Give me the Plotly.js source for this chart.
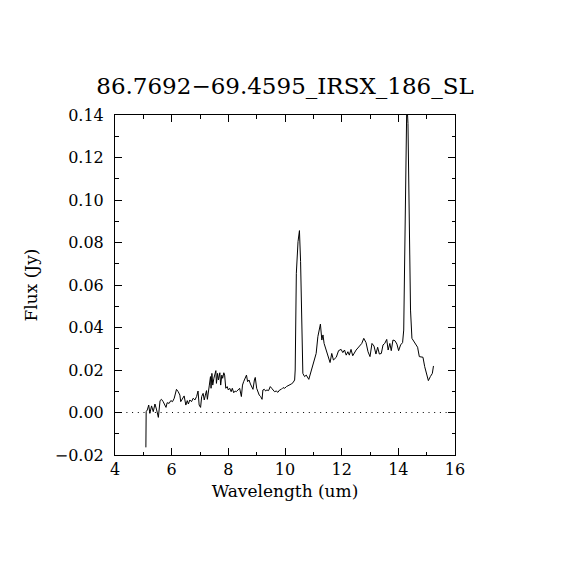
<!DOCTYPE html>
<html>
<head>
<meta charset="utf-8">
<script src="https://cdn.plot.ly/plotly-3.0.1.min.js"></script>
<style>html,body{margin:0;padding:0;background:#fff;}#chart{width:570px;height:570px;}</style>
</head>
<body>
<div id="chart"></div>
<script>
// Wavelength (um)
var wavelength = [
 5.09, 5.10, 5.14, 5.19, 5.23, 5.29, 5.35, 5.41, 5.47, 5.53, 5.59, 5.64, 5.70, 5.76, 5.80, 5.84, 5.91, 5.97, 6.03, 6.09,
 6.17, 6.23, 6.29, 6.32, 6.38, 6.44, 6.50, 6.55, 6.59, 6.64, 6.70, 6.76, 6.82, 6.88, 6.93, 6.97, 7.02, 7.06, 7.11, 7.15,
 7.19, 7.23, 7.26, 7.30, 7.33, 7.37, 7.39, 7.42, 7.45, 7.49, 7.52, 7.56, 7.58, 7.62, 7.65, 7.70, 7.73, 7.77, 7.80, 7.84,
 7.87, 7.91, 7.96, 8.00, 8.05, 8.10, 8.14, 8.19, 8.24, 8.28, 8.34, 8.40, 8.46, 8.50, 8.54, 8.59, 8.64, 8.68, 8.73, 8.78,
 8.82, 8.87, 8.92, 8.95, 9.00, 9.05, 9.09, 9.14, 9.19, 9.22, 9.27, 9.32, 9.36, 9.42, 9.48, 9.53, 9.58, 9.63, 9.69, 9.75,
 9.81, 9.87, 9.93, 9.99, 10.05, 10.10, 10.16, 10.22, 10.28, 10.34, 10.36, 10.40, 10.46, 10.49, 10.51, 10.55, 10.60, 10.63,
 10.69, 10.75, 10.84, 10.92, 11.02, 11.10, 11.16, 11.22, 11.25, 11.30, 11.34, 11.38, 11.43, 11.51, 11.59, 11.65, 11.71,
 11.81, 11.89, 11.98, 12.04, 12.10, 12.16, 12.22, 12.27, 12.33, 12.39, 12.51, 12.63, 12.71, 12.78, 12.86, 12.93, 13.00,
 13.07, 13.14, 13.21, 13.27, 13.33, 13.40, 13.46, 13.52, 13.59, 13.64, 13.70, 13.75, 13.81, 13.88, 13.95, 14.01, 14.08,
 14.15, 14.19, 14.22, 14.27, 14.30, 14.34, 14.39, 14.43, 14.48, 14.56, 14.62, 14.68, 14.74, 14.81, 14.87, 14.93, 14.99,
 15.06, 15.13, 15.20, 15.24
];
// Flux (Jy)
var flux = [
 -0.0164, 0.0004, 0.0012, 0.0035, -0.0004, 0.0031, 0.0004, 0.0040, 0.0012, -0.0023, 0.0056, 0.0062, 0.0051, 0.0035, 0.0024, 0.0046, 0.0043, 0.0056, 0.0051, 0.0067,
 0.0109, 0.0098, 0.0082, 0.0051, 0.0062, 0.0078, 0.0035, 0.0056, 0.0040, 0.0059, 0.0051, 0.0067, 0.0059, 0.0075, 0.0101, 0.0035, 0.0024, 0.0075, 0.0090, 0.0059,
 0.0082, 0.0103, 0.0062, 0.0114, 0.0129, 0.0169, 0.0114, 0.0184, 0.0129, 0.0161, 0.0176, 0.0197, 0.0137, 0.0184, 0.0153, 0.0187, 0.0129, 0.0176, 0.0161, 0.0187,
 0.0176, 0.0114, 0.0122, 0.0106, 0.0114, 0.0098, 0.0114, 0.0093, 0.0101, 0.0098, 0.0106, 0.0114, 0.0075, 0.0129, 0.0145, 0.0165, 0.0176, 0.0145, 0.0153, 0.0134,
 0.0122, 0.0109, 0.0153, 0.0165, 0.0114, 0.0090, 0.0082, 0.0075, 0.0062, 0.0106, 0.0109, 0.0101, 0.0106, 0.0103, 0.0122, 0.0114, 0.0106, 0.0098, 0.0101, 0.0095,
 0.0106, 0.0109, 0.0117, 0.0114, 0.0122, 0.0125, 0.0129, 0.0134, 0.0140, 0.0153, 0.0200, 0.0655, 0.0804, 0.0843, 0.0856, 0.0710, 0.0435, 0.0184,
 0.0169, 0.0176, 0.0156, 0.0192, 0.0239, 0.0278, 0.0357, 0.0388, 0.0416, 0.0341, 0.0365, 0.0325, 0.0302, 0.0271, 0.0235, 0.0278, 0.0247,
 0.0260, 0.0291, 0.0297, 0.0282, 0.0294, 0.0270, 0.0286, 0.0270, 0.0297, 0.0267, 0.0294, 0.0310, 0.0325, 0.0349, 0.0329, 0.0286, 0.0263,
 0.0325, 0.0313, 0.0275, 0.0307, 0.0275, 0.0278, 0.0318, 0.0325, 0.0344, 0.0294, 0.0325, 0.0291, 0.0341, 0.0338, 0.0322, 0.0291, 0.0318,
 0.0329, 0.0388, 0.0733, 0.1360, 0.1470, 0.1360, 0.0843, 0.0482, 0.0349, 0.0333, 0.0322, 0.0307, 0.0263, 0.0260, 0.0260, 0.0216, 0.0181,
 0.0150, 0.0169, 0.0184, 0.0219
];
var chartTitle = '86.7692\u221269.4595_IRSX_186_SL';
var xLabel = 'Wavelength (um)';
var yLabel = 'Flux (Jy)';

var serif = 'DejaVu Serif, serif';

var trace = {
  x: wavelength, y: flux, type: 'scatter', mode: 'lines',
  line: {color: '#000', width: 1}, hoverinfo: 'skip'
};

var axisCommon = {
  showline: true, linecolor: '#000', linewidth: 1, mirror: 'ticks',
  ticks: 'inside', ticklen: 7, tickwidth: 1, tickcolor: '#000',
  showgrid: false, zeroline: false,
  tickfont: {family: serif, size: 16, color: '#000'}
};

var layout = {
  width: 570, height: 570,
  margin: {l: 115, r: 115, t: 115, b: 115},
  paper_bgcolor: '#fff', plot_bgcolor: '#fff',
  showlegend: false,
  title: {text: chartTitle, font: {family: serif, size: 23, color: '#000'}, x: 0.5, xanchor: 'center', y: 1 - 86/570, yanchor: 'middle'},
  xaxis: Object.assign({}, axisCommon, {
    range: [4, 16], dtick: 2, tick0: 0,
    minor: {dtick: 1, ticks: 'inside', ticklen: 3.5, tickcolor: '#000', showgrid: false},
    title: {text: xLabel, font: {family: serif, size: 17, color: '#000'}, standoff: 6}
  }),
  yaxis: Object.assign({}, axisCommon, {
    range: [-0.02, 0.14], dtick: 0.02, tick0: 0, tickformat: '.2f',
    ticklabelstandoff: 7,
    minor: {dtick: 0.01, ticks: 'inside', ticklen: 3.5, tickcolor: '#000', showgrid: false},
    title: {text: yLabel, font: {family: serif, size: 17, color: '#000'}, standoff: 12}
  }),
  shapes: [{type: 'line', xref: 'paper', yref: 'y', x0: 0, x1: 1, y0: 0, y1: 0,
            line: {color: '#000', width: 1, dash: '1px,4.7px'}, layer: 'below'}]
};

Plotly.newPlot('chart', [trace], layout, {staticPlot: true, displayModeBar: false});
</script>
</body>
</html>
